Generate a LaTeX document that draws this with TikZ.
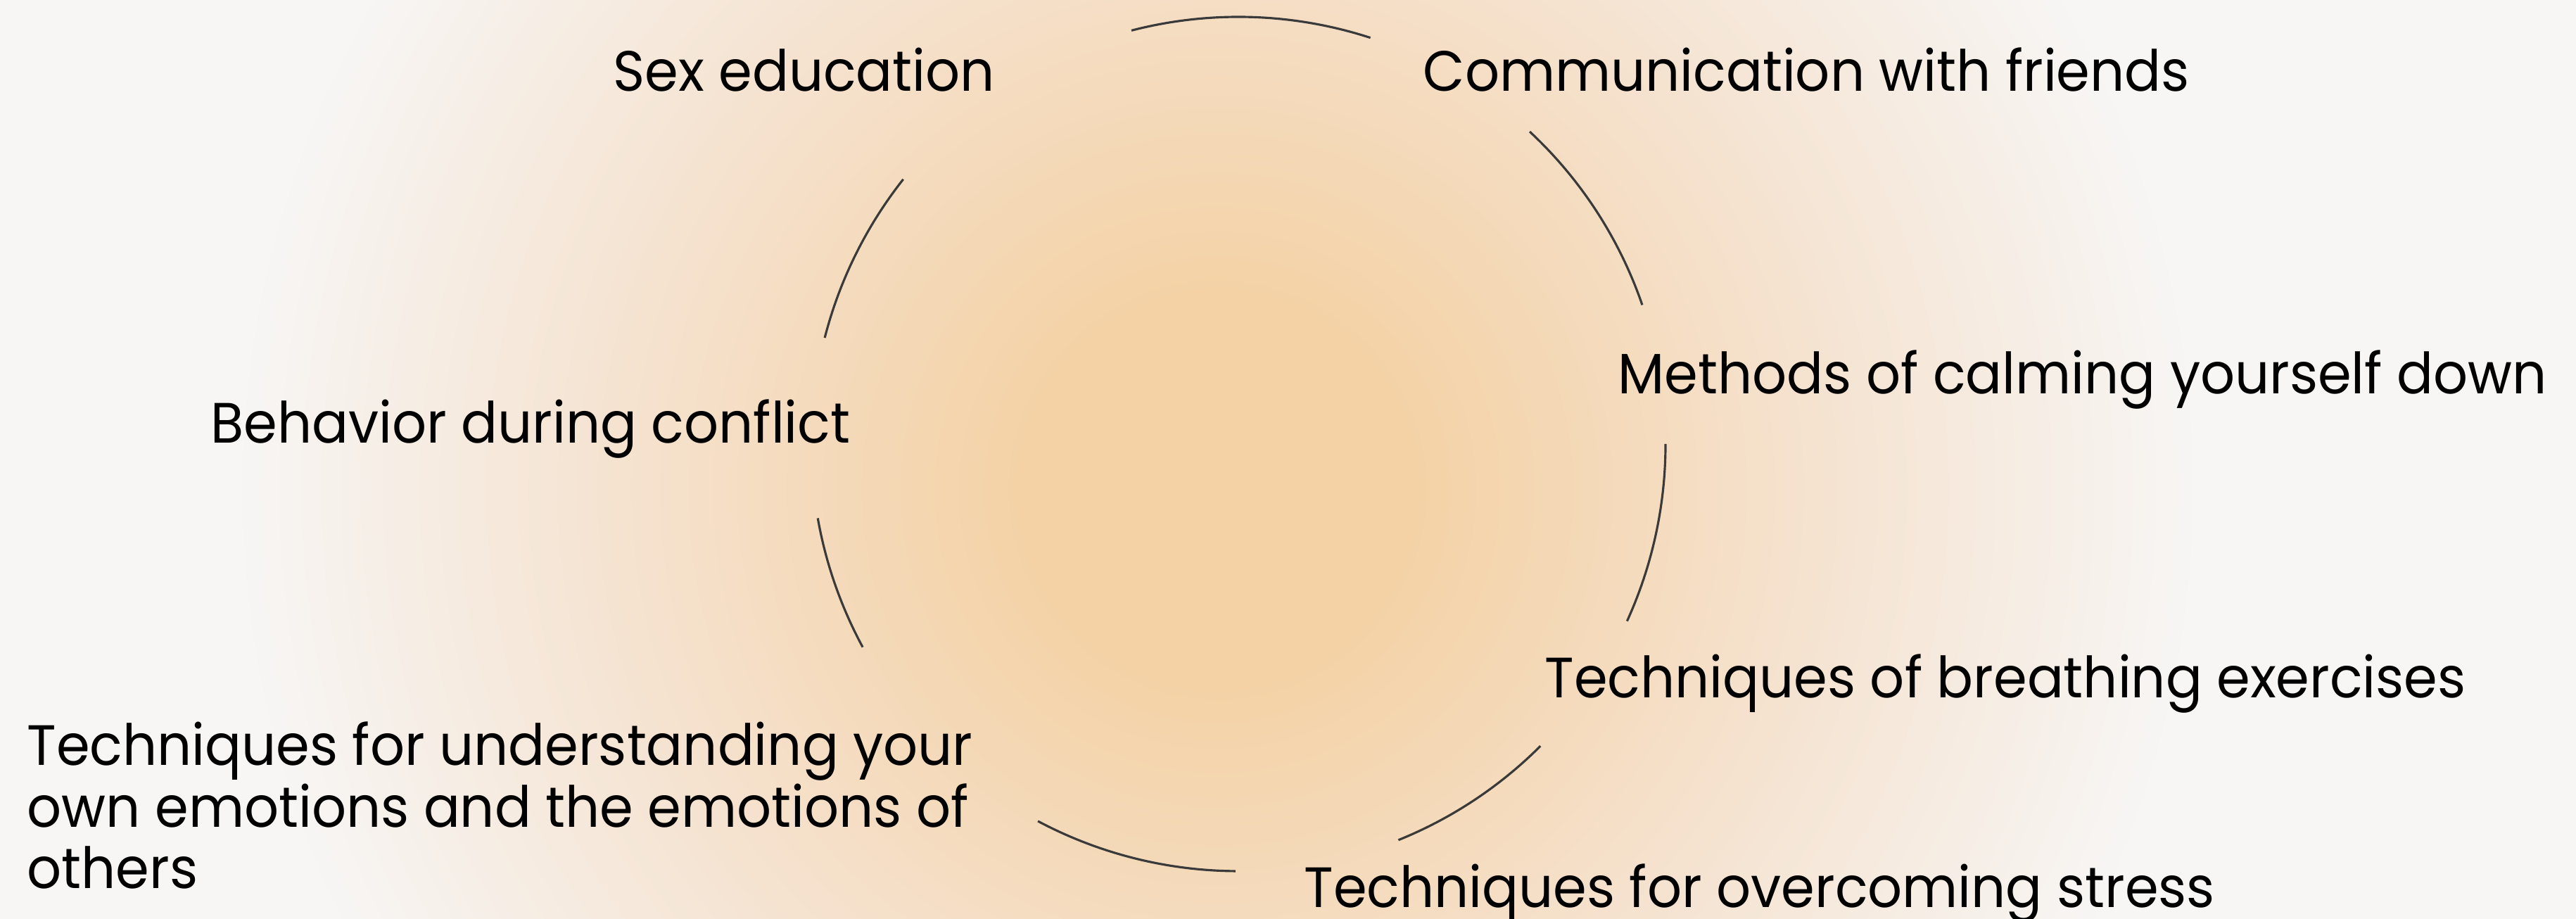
\documentclass[tikz,border=0pt]{standalone}
\usepackage{fontspec}
\setmainfont{Poppins}[FakeStretch=0.95]
\definecolor{paper}{HTML}{F7F6F5}
\definecolor{glowcore}{HTML}{F4D2A6}
\definecolor{glowmid}{HTML}{F5E2CF}
\definecolor{ringline}{HTML}{3A3A3A}
\pgfdeclareradialshading{peachglow}{\pgfpoint{0bp}{0bp}}{color(0bp)=(glowcore); color(5bp)=(glowcore); color(15bp)=(glowmid); color(25bp)=(paper); color(50bp)=(paper)}

\begin{document}
\begin{tikzpicture}[
    item/.style={anchor=base west,inner sep=0pt,font=\fontsize{23}{24.9}\selectfont},
    ring/.style={draw=ringline,line width=0.9pt}]
	\useasboundingbox (0,0) rectangle (36.61,13.06);
	\fill[paper] (0,0) rectangle (36.61,13.06);
	\begin{scope}
		\clip (0,0) rectangle (36.61,13.06);
		\shade[shading=peachglow] (17.3,6.1) circle (14);
	\end{scope}
	\coordinate (C) at (17.60,6.75);
	% topics round the cycle
	\node[item] (sex) at (8.71,11.76) {Sex education};
	\node[item] (friends) at (20.22,11.76) {Communication with friends};
	\node[item] (calm) at (22.99,7.46) {Methods of calming yourself down};
	\node[item] (breath) at (21.95,3.14) {Techniques of breathing exercises};
	\node[item] (stress) at (18.53,0.16) {Techniques for overcoming stress};
	\node[item,align=left] (emo) at (0.38,0.43) {Techniques for understanding your\\own emotions and the emotions of\\others};
	\node[item] (conflict) at (2.99,6.76) {Behavior during conflict};
	% ring pieces in the gaps
	\foreach \a/\b in {104.5/72,47/19,0/-24.5,-45/-68,-90.4/-118,-151.6/-170,165.6/141.7}
		\draw[ring] (C) ++(\a:6.07) arc[start angle=\a,end angle=\b,radius=6.07];
\end{tikzpicture}
\end{document}
